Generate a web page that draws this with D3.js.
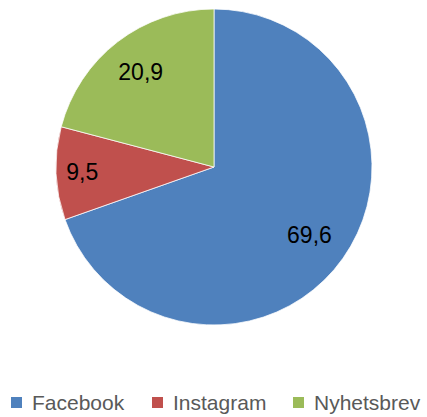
<!DOCTYPE html>
<html>
<head>
<meta charset="utf-8">
<script src="https://cdn.jsdelivr.net/npm/d3@7"></script>
<style>
  body { margin: 0; background: #fff; }
  svg { display: block; }
</style>
</head>
<body>
<div id="chart"></div>
<script>
const categories = ["Facebook", "Instagram", "Nyhetsbrev"];
const values = [69.6, 9.5, 20.9];
const colors = ["#4F81BD", "#C0504D", "#9BBB59"];

const width = 427, height = 417;
const cx = 214, cy = 167, radius = 158;
// label distance from centre, as a fraction of the radius (Excel "best fit")
const labelRadius = [0.74, 0.835, 0.76];

const svg = d3.select("#chart").append("svg")
    .attr("width", width)
    .attr("height", height);

const pie = d3.pie().sort(null).value(d => d.value);
const data = categories.map((c, i) => ({ name: c, value: values[i], color: colors[i] }));
const arcs = pie(data);

const arc = d3.arc().innerRadius(0).outerRadius(radius);

const g = svg.append("g").attr("transform", `translate(${cx},${cy})`);

g.selectAll("path")
    .data(arcs)
    .enter().append("path")
    .attr("d", arc)
    .attr("fill", d => d.data.color)
    .attr("stroke", "#fff")
    .attr("stroke-width", 0.75);

const fmt = v => d3.format(".1f")(v).replace(".", ",");

g.selectAll("text.lbl")
    .data(arcs)
    .enter().append("text")
    .attr("class", "lbl")
    .attr("transform", (d, i) => {
        const r = radius * labelRadius[i];
        const a = (d.startAngle + d.endAngle) / 2;
        return `translate(${Math.sin(a) * r},${-Math.cos(a) * r})`;
    })
    .attr("text-anchor", "middle")
    .attr("dy", "0.35em")
    .style("font-family", "'Liberation Sans', Arial, sans-serif")
    .style("font-size", "23px")
    .style("fill", "#000")
    .text(d => fmt(d.data.value));

// legend
const legendX = d3.scalePoint().domain(categories).range([11, 293]);

const legend = svg.append("g")
    .selectAll("g")
    .data(data)
    .enter().append("g")
    .attr("transform", d => `translate(${legendX(d.name)},397)`);

legend.append("rect")
    .attr("width", 11)
    .attr("height", 11)
    .attr("fill", d => d.color);

legend.append("text")
    .attr("x", 21)
    .attr("y", 13)
    .style("font-family", "'Liberation Sans', Arial, sans-serif")
    .style("font-size", "21px")
    .style("fill", "#595959")
    .text(d => d.name);
</script>
</body>
</html>
